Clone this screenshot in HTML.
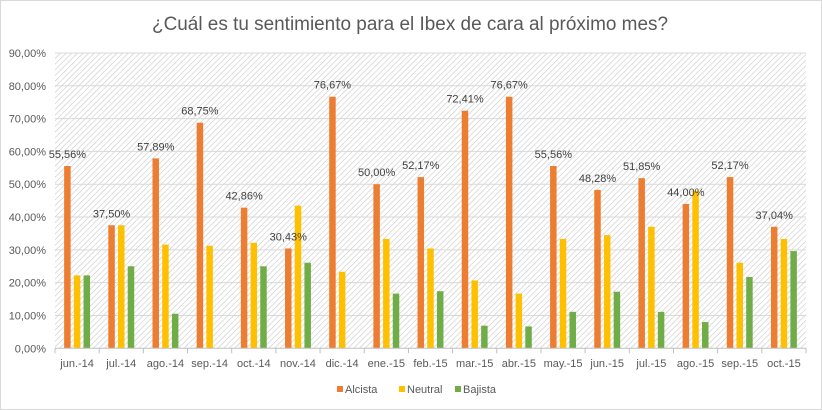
<!DOCTYPE html>
<html><head><meta charset="utf-8">
<style>
html,body{margin:0;padding:0;background:#fff;}
svg{display:block;font-family:"Liberation Sans",sans-serif;}
</style></head>
<body>
<svg id="chart" width="822" height="410" viewBox="0 0 822 410" xmlns="http://www.w3.org/2000/svg">
<defs>
<pattern id="hatch" patternUnits="userSpaceOnUse" width="4" height="4" patternTransform="rotate(45)">
<rect width="4" height="4" fill="#ffffff"/>
<line x1="0" y1="0" x2="0" y2="4" stroke="#c8c8c8" stroke-width="1.2"/>
</pattern>
</defs>
<rect x="0.5" y="0.5" width="821" height="409" fill="#fff" stroke="#d9d9d9"/>
<text x="410" y="30" text-anchor="middle" font-size="19" fill="#595959" textLength="516" lengthAdjust="spacingAndGlyphs">¿Cuál es tu sentimiento para el Ibex de cara al próximo mes?</text>
<rect x="55" y="53" width="751" height="295" fill="url(#hatch)"/>
<g id="grid"></g>
<g id="bars"></g>
<g id="labels"></g>
<g id="axes"></g>
<g>
<rect x="337" y="386" width="6" height="6" fill="#ED7D31"/>
<text x="345" y="393" font-size="11" fill="#595959">Alcista</text>
<rect x="399" y="386" width="6" height="6" fill="#FFC000"/>
<text x="407" y="393" font-size="11" fill="#595959">Neutral</text>
<rect x="455" y="386" width="6" height="6" fill="#70AD47"/>
<text x="463" y="393" font-size="11" fill="#595959">Bajista</text>
</g>
</svg>
<script>
const categories = ["jun.-14","jul.-14","ago.-14","sep.-14","oct.-14","nov.-14","dic.-14","ene.-15","feb.-15","mar.-15","abr.-15","may.-15","jun.-15","jul.-15","ago.-15","sep.-15","oct.-15"];
const alcista = [55.56,37.50,57.89,68.75,42.86,30.43,76.67,50.00,52.17,72.41,76.67,55.56,48.28,51.85,44.00,52.17,37.04];
const neutral = [22.22,37.50,31.58,31.25,32.14,43.48,23.33,33.33,30.43,20.69,16.67,33.33,34.48,37.04,48.00,26.09,33.33];
const bajista = [22.22,25.00,10.53,0,25.00,26.09,0,16.67,17.39,6.90,6.67,11.11,17.24,11.11,8.00,21.74,29.63];
const yTicks = [0,10,20,30,40,50,60,70,80,90];

const NS="http://www.w3.org/2000/svg";
const plotLeft=55,plotRight=806,plotTop=53,plotBottom=348.3,yMax=90;
const band=(plotRight-plotLeft)/categories.length;
const yScale=v=>plotBottom-(v/yMax)*(plotBottom-plotTop);
const xc=i=>plotLeft+band*(i+0.5);
const fmt=v=>v.toFixed(2).replace('.',',')+'%';
function mk(tag,attrs,parent){const e=document.createElementNS(NS,tag);for(const k in attrs)e.setAttribute(k,attrs[k]);parent.appendChild(e);return e;}
const gridG=document.getElementById('grid'),barsG=document.getElementById('bars'),labelsG=document.getElementById('labels'),axesG=document.getElementById('axes');

yTicks.forEach(t=>{
  if(t>0){const l=mk('line',{x1:plotLeft,x2:plotRight,y1:yScale(t),y2:yScale(t),stroke:'#d9d9d9','stroke-width':1},gridG);
  
  }
  const tx=mk('text',{x:46,y:yScale(t)+4,'text-anchor':'end','font-size':11,fill:'#595959'},axesG);
  tx.textContent=t.toFixed(2).replace('.',',')+'%';
  
  
});
const ax=mk('line',{x1:plotLeft,x2:plotRight,y1:plotBottom,y2:plotBottom,stroke:'#bfbfbf','stroke-width':1},axesG);


for(let i=0;i<=categories.length;i++){
  const tk=mk('line',{x1:plotLeft+band*i,x2:plotLeft+band*i,y1:plotBottom,y2:plotBottom+5,stroke:'#bfbfbf'},axesG);
  
  
}
const bw=6.5,off=9.7;
const series=[[alcista,'#ED7D31',-off,'alcista'],[neutral,'#FFC000',0,'neutral'],[bajista,'#70AD47',off,'bajista']];
categories.forEach((c,i)=>{
  series.forEach(([arr,col,o,nm])=>{
    const v=arr[i];
    const r=mk('rect',{x:xc(i)+o-bw/2,y:yScale(v),width:bw,height:plotBottom-yScale(v),fill:col},barsG);
    
    
  });
  const lb=mk('text',{x:xc(i)-off,y:yScale(alcista[i])-8,'text-anchor':'middle','font-size':11,fill:'#404040'},labelsG);
  lb.textContent=fmt(alcista[i]);
  
  
  const xl=mk('text',{x:xc(i),y:367,'text-anchor':'middle','font-size':11,fill:'#595959'},axesG);
  xl.textContent=c;
  
  
});
</script>
</body></html>
